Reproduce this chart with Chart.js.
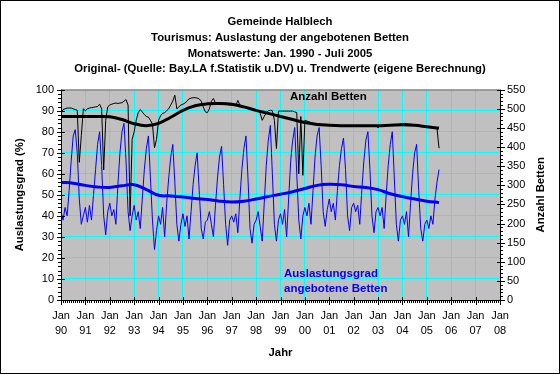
<!DOCTYPE html>
<html>
<head>
<meta charset="utf-8">
<script src="https://cdn.jsdelivr.net/npm/chart.js@4"></script>
<style>
  html, body { margin: 0; padding: 0; background: #fff; }
  #wrap { width: 560px; height: 374px; }
</style>
</head>
<body>
<div id="wrap"><canvas id="chart" width="560" height="374"></canvas></div>
<script>
// --- data (monthly, Jan 1990 .. Jul 2005) ---
const yearLabels = ['90', '91', '92', '93', '94', '95', '96', '97', '98', '99', '00', '01', '02', '03', '04', '05', '06', '07', '08'];
const titleLines = [
    'Gemeinde Halblech',
    'Tourismus: Auslastung der angebotenen Betten',
    'Monatswerte: Jan. 1990 - Juli 2005',
    'Original- (Quelle: Bay.LA f.Statistik u.DV) u. Trendwerte (eigene Berechnung)'
];

// Auslastungsgrad in %
const auslastung = [
    42, 38, 44, 40, 52, 66, 78, 81, 70, 48, 36, 40,   // 1990
    44, 37, 45, 38, 50, 62, 74, 80, 64, 40, 31, 42,   // 1991
    46, 40, 43, 36, 55, 70, 80, 84, 66, 42, 33, 40,   // 1992
    45, 38, 42, 34, 48, 62, 72, 78, 58, 38, 24, 33,   // 1993
    40, 36, 44, 30, 46, 58, 68, 74, 56, 36, 28, 36,   // 1994
    41, 35, 40, 29, 42, 55, 64, 70, 52, 34, 29, 37,   // 1995
    38, 42, 36, 30, 45, 58, 68, 73, 55, 36, 26, 38,   // 1996
    40, 37, 41, 32, 48, 62, 72, 78, 58, 34, 27, 36,   // 1997
    38, 42, 35, 28, 46, 64, 76, 83, 60, 36, 28, 38,   // 1998
    41, 36, 43, 30, 48, 66, 76, 82, 60, 38, 29, 40,   // 1999
    44, 40, 46, 36, 52, 68, 78, 82, 64, 42, 35, 43,   // 2000
    48, 42, 46, 38, 52, 64, 72, 77, 62, 40, 33, 44,   // 2001
    46, 42, 45, 36, 52, 66, 76, 80, 62, 40, 32, 42,   // 2002
    44, 40, 44, 34, 50, 64, 74, 80, 58, 36, 28, 38,   // 2003
    40, 36, 42, 30, 46, 60, 70, 74, 52, 34, 28, 36,   // 2004
    38, 34, 40, 36, 48, 56, 62                        // 2005
];

// angebotene Betten
const betten = [
    487, 498, 500, 502, 502, 502, 500, 498, 496, 360, 430, 500,   // 1990
    495, 500, 502, 503, 504, 505, 506, 512, 500, 340, 470, 505,   // 1991
    510, 512, 514, 515, 514, 515, 516, 520, 524, 510, 220, 420,   // 1992
    440, 470, 490, 498, 492, 485, 480, 478, 470, 460, 398, 420,   // 1993
    470, 482, 488, 490, 495, 500, 510, 520, 536, 500, 505, 510,   // 1994
    512, 515, 520, 526, 528, 529, 529, 528, 526, 520, 505, 492,   // 1995
    490, 500, 520, 527, 515, 513, 513, 512, 512, 511, 511, 510,   // 1996
    510, 510, 508, 522, 510, 506, 504, 502, 500, 499, 498, 497,   // 1997
    497, 496, 488, 470, 480, 490, 495, 496, 495, 470, 396, 494,   // 1998
    494, 494, 494, 494, 494, 494, 494, 492, 490, 330, 480, 326,   // 1999
    470, 468, 466, 464, 462, 461, 460, 460, 459, 458, 458, 458,   // 2000
    458, 457, 457, 457, 456, 456, 456, 456, 456, 456, 456, 456,   // 2001
    456, 456, 456, 455, 456, 456, 456, 456, 456, 456, 456, 456,   // 2002
    450, 456, 456, 456, 457, 457, 457, 457, 458, 458, 459, 460,   // 2003
    461, 462, 461, 460, 460, 459, 458, 457, 456, 455, 454, 453,   // 2004
    452, 451, 451, 450, 450, 449, 397                             // 2005
];

// trend values, every half year (Jan / Jul)
const auslastungTrend = [56, 55.5, 54.5, 53.7, 53.5, 54.3, 54.8, 52.5, 49.8, 49.5, 49, 48.3, 47.8, 47, 46.6, 47,
    48, 49.2, 50.3, 51.5, 53, 54.5, 55, 54.8, 54, 53.5, 52.5, 50.5, 49.2, 48, 47, 46.3];
const bettenTrend = [480, 480, 480, 480, 479, 472, 461, 456, 462, 478, 496, 508, 513, 514, 512, 505,
    496, 488, 480, 472, 464, 459, 457, 456, 456, 456, 456, 457, 458, 457, 453, 449];

const FONT = "'Liberation Sans', Arial, sans-serif";
const toPoints = (vals, step) => vals.map((v, i) => ({ x: i * step, y: v }));

const framePlugin = {
    id: 'frame',
    beforeDraw(chart) {
        const { ctx, chartArea: a } = chart;
        ctx.save();
        ctx.fillStyle = '#c0c0c0';
        ctx.fillRect(a.left, a.top, a.right - a.left, a.bottom - a.top);
        ctx.restore();
    },
    afterDraw(chart) {
        const { ctx, chartArea: a, scales } = chart;
        ctx.save();
        // top edge of plot area
        ctx.strokeStyle = '#808080';
        ctx.lineWidth = 1;
        ctx.beginPath();
        ctx.moveTo(a.left, a.top + 0.5); ctx.lineTo(a.right, a.top + 0.5);
        ctx.stroke();

        // axis lines + tick marks
        ctx.strokeStyle = '#000';
        ctx.beginPath();
        ctx.moveTo(a.left + 0.5, a.top); ctx.lineTo(a.left + 0.5, a.bottom + 0.5);
        ctx.lineTo(a.right + 0.5, a.bottom + 0.5); ctx.lineTo(a.right + 0.5, a.top);
        for (let m = 0; m <= 216; m++) {
            const x = Math.round(scales.x.getPixelForValue(m)) + 0.5;
            const major = m % 12 === 0;
            ctx.moveTo(x, a.bottom + (major ? -3 : 0)); ctx.lineTo(x, a.bottom + (major ? 5 : 3));
        }
        for (let v = 0; v <= 100; v += 2) {
            const y = Math.round(scales.y.getPixelForValue(v)) + 0.5;
            const major = v % 10 === 0;
            ctx.moveTo(a.left - (major ? 4 : 3), y); ctx.lineTo(a.left + (major ? 4 : 0), y);
        }
        for (let v = 0; v <= 550; v += 10) {
            const y = Math.round(scales.y2.getPixelForValue(v)) + 0.5;
            const major = v % 50 === 0;
            ctx.moveTo(a.right - (major ? 3 : 0), y); ctx.lineTo(a.right + (major ? 5 : 3), y);
        }
        ctx.stroke();

        // text boxes inside the plot
        ctx.textBaseline = 'middle';
        ctx.textAlign = 'left';
        ctx.font = 'bold 11.5px ' + FONT;
        ctx.fillStyle = '#000';
        ctx.fillText('Anzahl Betten', 290, 97);
        ctx.fillStyle = '#0000ff';
        ctx.fillText('Auslastungsgrad', 284, 274);
        ctx.fillText('angebotene Betten', 284, 289);

        // right axis title, reading bottom to top
        ctx.fillStyle = '#000';
        ctx.font = 'bold 11.3px ' + FONT;
        ctx.textAlign = 'center';
        ctx.translate(541, (a.top + a.bottom) / 2);
        ctx.rotate(-Math.PI / 2);
        ctx.fillText('Anzahl Betten', 0, 0);
        ctx.restore();

        // outer frame
        ctx.save();
        ctx.strokeStyle = '#000';
        ctx.lineWidth = 1;
        ctx.strokeRect(0.5, 0.5, chart.width - 1, chart.height - 1);
        ctx.restore();
    }
};

const tickFont = { family: FONT, size: 11 };
const titleFont = { family: FONT, size: 11.3, weight: 'bold' };

new Chart(document.getElementById('chart'), {
    type: 'line',
    data: {
        datasets: [
            { label: 'Anzahl Betten (Trend)', data: toPoints(bettenTrend, 6), yAxisID: 'y2', borderColor: '#000000', borderWidth: 3, tension: 0.4, order: 0 },
            { label: 'Auslastungsgrad (Trend)', data: toPoints(auslastungTrend, 6), yAxisID: 'y', borderColor: '#0000ff', borderWidth: 3, tension: 0.4, order: 1 },
            { label: 'Auslastungsgrad', data: toPoints(auslastung, 1), yAxisID: 'y', borderColor: '#0000ff', borderWidth: 1, order: 2 },
            { label: 'Anzahl Betten', data: toPoints(betten, 1), yAxisID: 'y2', borderColor: '#000000', borderWidth: 1, order: 3 }
        ]
    },
    options: {
        responsive: false,
        animation: false,
        devicePixelRatio: 1,
        layout: { padding: 0 },
        elements: { point: { radius: 0 } },
        plugins: {
            legend: { display: false },
            tooltip: { enabled: false },
            title: {
                display: true, text: titleLines, color: '#000',
                font: { family: FONT, size: 11.3, weight: 'bold', lineHeight: 1.4 },
                padding: { top: 14, bottom: 12.4 }
            }
        },
        scales: {
            x: {
                type: 'linear', position: 'bottom', min: 0, max: 216,
                afterFit: s => { s.height = 74; },
                ticks: {
                    stepSize: 12, autoSkip: false, maxRotation: 0, padding: 8, color: '#000',
                    font: { ...tickFont, lineHeight: 1.38 },
                    callback: v => ['Jan', yearLabels[v / 12]]
                },
                grid: { color: '#00ffff', drawTicks: false },
                border: { display: false },
                title: { display: true, text: 'Jahr', color: '#000', font: titleFont, padding: { top: 0, bottom: 14.2 } }
            },
            y: {
                position: 'left', min: 0, max: 100,
                afterFit: s => { s.width = 61; },
                ticks: { stepSize: 10, padding: 7, color: '#000', font: tickFont },
                grid: { color: '#00ffff', drawTicks: false },
                border: { display: false },
                title: { display: true, text: 'Auslastungsgrad (%)', color: '#000', font: titleFont, padding: { top: 13.2, bottom: 0 } }
            },
            y2: {
                position: 'right', min: 0, max: 550,
                afterFit: s => { s.width = 60; },
                ticks: { stepSize: 50, padding: 7, color: '#000', font: tickFont },
                grid: { drawOnChartArea: false, drawTicks: false },
                border: { display: false }
            }
        }
    },
    plugins: [framePlugin]
});
</script>
</body>
</html>
